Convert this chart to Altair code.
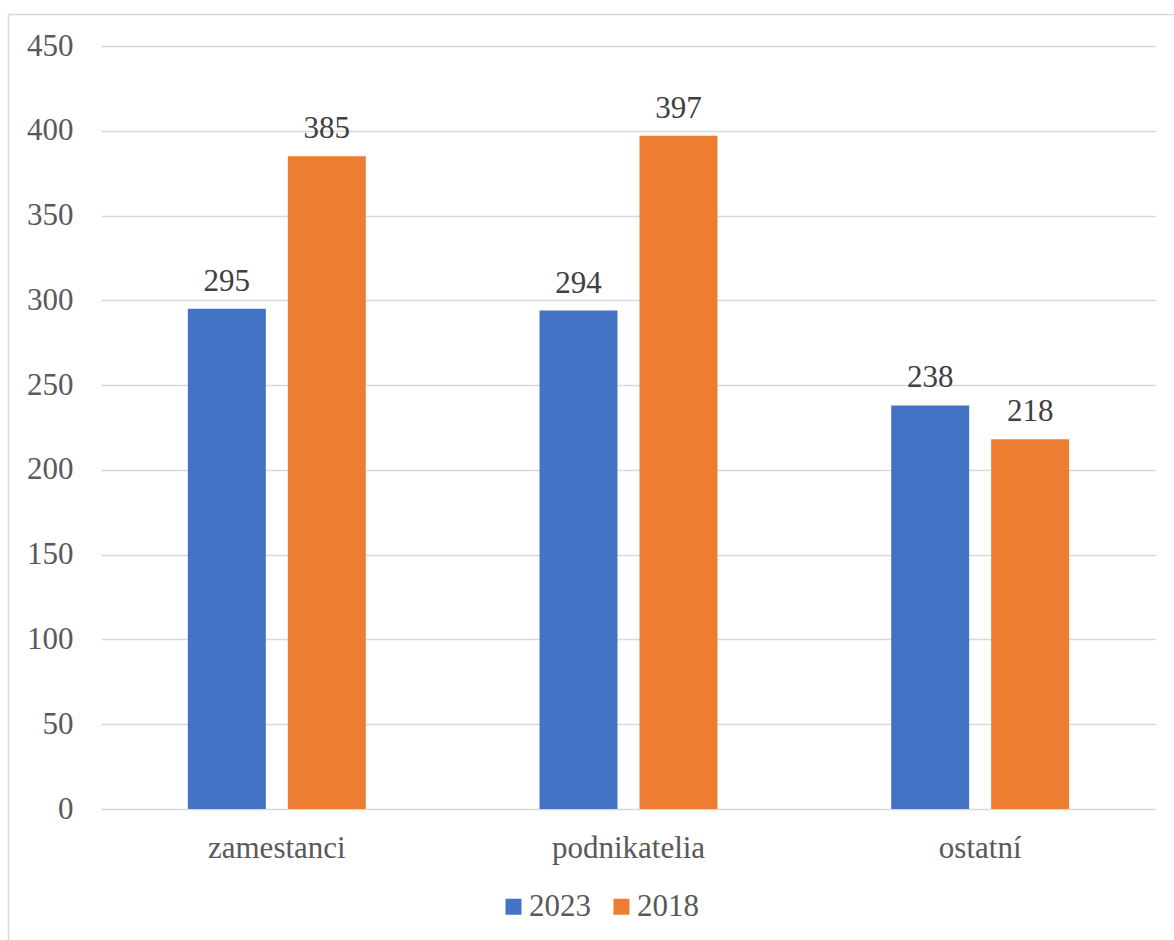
import altair as alt
import pandas as pd

# Categories and the two survey years
categories = ["zamestanci", "podnikatelia", "ostatní"]
series = ["2023", "2018"]
values_2023 = [295, 294, 238]
values_2018 = [385, 397, 218]

colors = ["#4472C4", "#ED7D31"]
font = "Liberation Serif, Times New Roman, serif"
text_grey = "#595959"
grid_grey = "#D9D9D9"

rows = []
for cat, v23, v18 in zip(categories, values_2023, values_2018):
    rows.append({"kategoria": cat, "rok": "2023", "hodnota": v23})
    rows.append({"kategoria": cat, "rok": "2018", "hodnota": v18})
df = pd.DataFrame(rows)

W, H = 1055, 763

x_enc = alt.X(
    "kategoria:N",
    sort=categories,
    scale=alt.Scale(paddingInner=0.494, paddingOuter=0.247),
    axis=alt.Axis(
        title=None,
        labelAngle=0,
        labelFont=font,
        labelFontSize=31,
        labelColor=text_grey,
        labelBaseline="alphabetic",
        labelPadding=48,
        ticks=False,
        domain=False,
        grid=False,
    ),
)
xoff_enc = alt.XOffset(
    "rok:N", sort=series, scale=alt.Scale(paddingInner=0.22, paddingOuter=0)
)
y_enc = alt.Y(
    "hodnota:Q",
    scale=alt.Scale(domain=[0, 450], nice=False),
    axis=alt.Axis(
        title=None,
        values=list(range(0, 451, 50)),
        labelFont=font,
        labelFontSize=31,
        labelColor=text_grey,
        labelPadding=28,
        ticks=False,
        domain=False,
        grid=True,
        gridColor=grid_grey,
        gridWidth=1.5,
    ),
)

bars = alt.Chart(df).mark_bar().encode(
    x=x_enc,
    xOffset=xoff_enc,
    y=y_enc,
    color=alt.Color(
        "rok:N",
        sort=series,
        scale=alt.Scale(domain=series, range=colors),
        legend=alt.Legend(
            title=None,
            orient="none",
            legendX=397,
            legendY=845,
            padding=0,
            direction="horizontal",
            symbolType="square",
            symbolSize=256,
            symbolStrokeWidth=0,
            labelFont=font,
            labelFontSize=31,
            labelColor=text_grey,
            labelOffset=0,
            columnPadding=15,
        ),
    ),
)

labels = alt.Chart(df).mark_text(
    font=font, fontSize=31, color="#404040", baseline="alphabetic", dy=-18
).encode(
    x=alt.X("kategoria:N", sort=categories),
    xOffset=alt.XOffset("rok:N", sort=series),
    y="hodnota:Q",
    text="hodnota:Q",
)

# Outer chart frame
frame = alt.Chart(pd.DataFrame({"f": [0]})).mark_rect(
    fill=None, stroke=grid_grey, strokeWidth=1.5
).encode(
    x=alt.value(-92.5), x2=alt.value(1180 - 101), y=alt.value(-31.5), y2=alt.value(960 - 46)
)

chart = (
    alt.layer(frame, bars, labels)
    .properties(
        width=W,
        height=H,
        autosize=alt.AutoSizeParams(type="none"),
        padding={"left": 101, "top": 46, "right": 18, "bottom": 131},
        background="white",
    )
    .configure_view(stroke=None)
)

chart.save("out.html", embed_options={"renderer": "svg", "actions": False})
